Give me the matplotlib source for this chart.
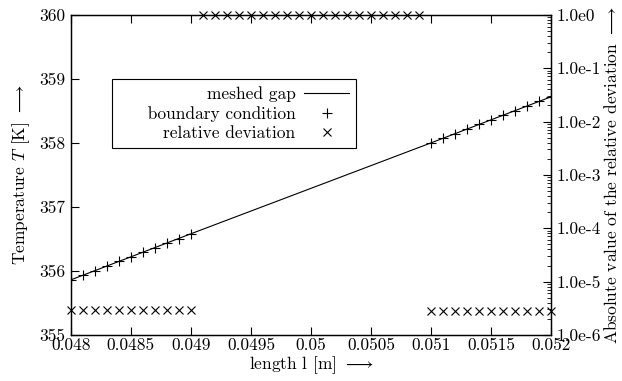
import matplotlib
matplotlib.use("Agg")
import matplotlib.pyplot as plt
from matplotlib.ticker import FixedLocator, FixedFormatter, LogLocator, NullFormatter

plt.rcParams['font.family'] = ['cmr10']
plt.rcParams['mathtext.fontset'] = 'cm'
plt.rcParams['axes.unicode_minus'] = False
plt.rcParams['font.size'] = 12.5

# meshed gap (solid line)
x_mesh = [0.0480, 0.0490, 0.0500, 0.0510, 0.0520]
t_mesh = [355.86, 356.58, 357.29, 358.00, 358.72]

# boundary condition points
x_bc = [0.0480, 0.0481, 0.0482, 0.0483, 0.0484, 0.0485, 0.0486, 0.0487, 0.0488, 0.0489, 0.0490,
        0.0510, 0.0511, 0.0512, 0.0513, 0.0514, 0.0515, 0.0516, 0.0517, 0.0518, 0.0519, 0.0520]
t_bc = [355.86, 355.93, 356.00, 356.08, 356.15, 356.22, 356.29, 356.36, 356.43, 356.50, 356.58,
        358.00, 358.07, 358.14, 358.22, 358.29, 358.36, 358.43, 358.50, 358.57, 358.65, 358.72]

# relative deviation (right axis, log)
x_dev = [0.0480, 0.0481, 0.0482, 0.0483, 0.0484, 0.0485, 0.0486, 0.0487, 0.0488, 0.0489, 0.0490,
         0.0491, 0.0492, 0.0493, 0.0494, 0.0495, 0.0496, 0.0497, 0.0498, 0.0499, 0.0500,
         0.0501, 0.0502, 0.0503, 0.0504, 0.0505, 0.0506, 0.0507, 0.0508, 0.0509,
         0.0510, 0.0511, 0.0512, 0.0513, 0.0514, 0.0515, 0.0516, 0.0517, 0.0518, 0.0519, 0.0520]
dev = [2.9e-6] * 11 + [1.0] * 19 + [2.8e-6] * 11

x_ticks = [0.048, 0.0485, 0.049, 0.0495, 0.05, 0.0505, 0.051, 0.0515, 0.052]
x_labels = ['0.048', '0.0485', '0.049', '0.0495', '0.05', '0.0505', '0.051', '0.0515', '0.052']
y2_ticks = [1e-6, 1e-5, 1e-4, 1e-3, 1e-2, 1e-1, 1e0]
y2_labels = ['1.0e-6', '1.0e-5', '1.0e-4', '1.0e-3', '1.0e-2', '1.0e-1', '1.0e0']

fig = plt.figure(figsize=(6.22, 3.81), dpi=100)
ax = fig.add_axes([0.114, 0.121, 0.772, 0.840])
ax2 = ax.twinx()

l1, = ax.plot(x_mesh, t_mesh, color='black', lw=0.8, label='meshed gap')
l2, = ax.plot(x_bc, t_bc, ls='none', marker='+', ms=7, mew=0.8, color='black',
              label='boundary condition')
l3, = ax2.plot(x_dev, dev, ls='none', marker='x', ms=5.5, mew=0.8, color='black',
               label='relative deviation', clip_on=False)

ax.set_xlim(0.048, 0.052)
ax.set_ylim(355, 360)
ax2.set_yscale('log')
ax2.set_ylim(1e-6, 1e0)

ax.xaxis.set_major_locator(FixedLocator(x_ticks))
ax.xaxis.set_major_formatter(FixedFormatter(x_labels))
ax.set_yticks([355, 356, 357, 358, 359, 360])
ax.tick_params(axis='x', direction='in', top=True, length=6, width=0.8, pad=2)
ax.tick_params(axis='y', direction='in', right=False, length=6, width=0.8, pad=4)

ax2.yaxis.set_major_locator(FixedLocator(y2_ticks))
ax2.yaxis.set_major_formatter(FixedFormatter(y2_labels))
ax2.yaxis.set_minor_locator(LogLocator(base=10, subs=range(2, 10)))
ax2.yaxis.set_minor_formatter(NullFormatter())
ax2.tick_params(axis='y', which='major', direction='in', length=6, width=0.8, pad=4)
ax2.tick_params(axis='y', which='minor', direction='in', length=3, width=0.6)

for a in (ax, ax2):
    for s in a.spines.values():
        s.set_linewidth(0.9)

ax.set_xlabel(r'length l [m] $\longrightarrow$', labelpad=1)
ax.set_ylabel(r'Temperature $T$ [K] $\longrightarrow$', labelpad=5)
ax2.set_ylabel(r'Absolute value of the relative deviation $\longrightarrow$', labelpad=1)

leg = ax2.legend([l1, l2, l3],
                 ['meshed gap', '     boundary condition', 'relative deviation'],
                 markerfirst=False, loc='upper left', bbox_to_anchor=(0.085, 0.80),
                 fancybox=False, edgecolor='black', framealpha=1, borderpad=0.4,
                 handlelength=2.6, handletextpad=0.5, labelspacing=0.25,
                 borderaxespad=0)
leg.get_frame().set_linewidth(0.8)

fig.savefig('out.png', dpi=100)
